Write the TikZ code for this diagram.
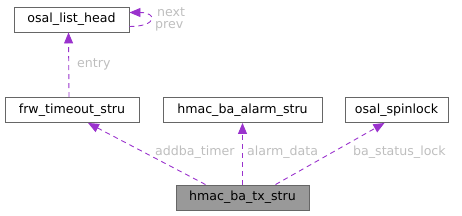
\documentclass[tikz,border=0pt]{standalone}
\usepackage{fontspec}
\setmainfont{DejaVu Sans}
\usetikzlibrary{arrows.meta,calc}

\definecolor{boxline}{HTML}{666666}
\definecolor{mainfill}{HTML}{999999}
\definecolor{edgepurple}{HTML}{9A32CD}
\definecolor{labelgrey}{HTML}{BEBEBE}

\begin{document}
\begin{tikzpicture}[x=1pt,y=-1pt,
  structbox/.style={draw=boxline,fill=white,line width=0.9pt,minimum height=25pt,inner xsep=4pt,font=\fontsize{12.6}{14}\selectfont},
  mainbox/.style={structbox,fill=mainfill},
  member/.style={draw=edgepurple,line width=0.9pt,dash pattern=on 5pt off 4pt,-{Triangle[length=11pt,width=9pt]}},
  memberlabel/.style={text=labelgrey,font=\fontsize{12.6}{14}\selectfont,inner sep=0pt}]
\useasboundingbox (0,0) rectangle (462,216);

\node[structbox,minimum width=115pt] (listhead) at (71.5,19.5) {osal\_list\_head};
\node[structbox,minimum width=134pt] (timeout) at (72,110) {frw\_timeout\_stru};
\node[structbox,minimum width=159pt] (alarm) at (242.5,110) {hmac\_ba\_alarm\_stru};
\node[structbox,minimum width=103pt] (spinlock) at (396.5,110) {osal\_spinlock};
\node[mainbox,minimum width=133pt] (txstru) at (242.5,197.5) {hmac\_ba\_tx\_stru};

\draw[member] ([xshift=-3pt]timeout.north) -- ([xshift=-3pt]listhead.south);
\draw[member] ([yshift=-7pt]listhead.east) .. controls +(28,0) and +(28,0) .. ([yshift=7pt]listhead.east);
\draw[member] ([xshift=-37pt]txstru.north) -- ([xshift=16pt]timeout.south);
\draw[member] (txstru.north) -- (alarm.south);
\draw[member] ([xshift=33pt]txstru.north) -- ([xshift=-12pt]spinlock.south);

\node[memberlabel,anchor=west] (entrylbl) at (77,64) {entry};
\node[memberlabel,anchor=west] (nextlbl) at (157,12) {next};
\node[memberlabel,anchor=west] (prevlbl) at (155,26) {prev};
\node[memberlabel,anchor=west] (timerlbl) at (155,152) {addba\_timer};
\node[memberlabel,anchor=west] (alarmlbl) at (247,152) {alarm\_data};
\node[memberlabel,anchor=west] (locklbl) at (353,152) {ba\_status\_lock};
\end{tikzpicture}
\end{document}
